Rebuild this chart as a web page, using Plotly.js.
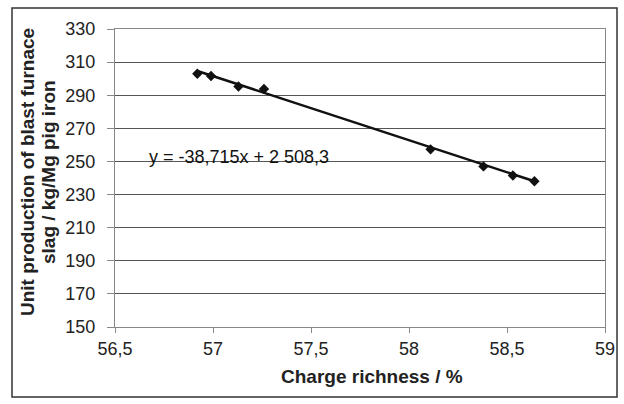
<!DOCTYPE html>
<html>
<head>
<meta charset="utf-8">
<script src="https://cdn.plot.ly/plotly-3.0.1.min.js"></script>
<style>body{margin:0;background:#fff}#c{width:624px;height:404px}</style>
</head>
<body>
<div id="c"></div>
<script>
const richness = [56.92, 56.99, 57.13, 57.26, 58.11, 58.38, 58.53, 58.64];
const slag = [303, 301.6, 295.3, 293.8, 257.3, 247, 241.5, 238];
const slope = -38.715;
const intercept = 2508.3;
const xTicks = [56.5, 57, 57.5, 58, 58.5, 59];
const xTickText = ["56,5", "57", "57,5", "58", "58,5", "59"];
const yTicks = [150, 170, 190, 210, 230, 250, 270, 290, 310, 330];
const equationText = "y = -38,715x + 2 508,3";
const yTitleLines = ["Unit production of blast furnace", "slag / kg/Mg pig iron"];
const xTitle = "Charge richness / %";

const xMin = Math.min(...richness), xMax = Math.max(...richness);
const trendX = [xMin, xMax];
const trendY = trendX.map(x => slope * x + intercept);

const W = 624, H = 404, L = 115, R = 19, T = 29, B = 77;
const pw = W - L - R, ph = H - T - B;
const px = v => (v - L) / pw;
const py = v => 1 - (v - T) / ph;

const data = [
  {x: trendX, y: trendY, mode: 'lines', line: {color: '#111', width: 2.5}, hoverinfo: 'skip'},
  {x: richness, y: slag, mode: 'markers', marker: {symbol: 'diamond', size: 8, color: '#111'}}
];
const layout = {
  width: W, height: H,
  margin: {l: L, r: R, t: T, b: B},
  showlegend: false,
  paper_bgcolor: '#fff', plot_bgcolor: '#fff',
  font: {family: 'Liberation Sans, Arial, sans-serif', color: '#222', size: 18},
  xaxis: {
    range: [56.5, 59], tickvals: xTicks, ticktext: xTickText,
    showgrid: false, zeroline: false, showline: true, linecolor: '#888', linewidth: 1,
    ticks: 'outside', ticklen: 5, tickcolor: '#888', mirror: true,
    tickfont: {size: 18, color: '#222'}
  },
  yaxis: {
    range: [150, 330], tickvals: yTicks,
    showgrid: true, gridcolor: '#555', gridwidth: 1, zeroline: false,
    showline: true, linecolor: '#888', linewidth: 1, mirror: true,
    ticks: 'outside', ticklen: 7, tickcolor: '#888', ticklabelstandoff: 8,
    tickfont: {size: 18, color: '#222'}
  },
  annotations: [
    {xref: 'paper', yref: 'paper', x: px(147), y: py(157), xanchor: 'left', yanchor: 'middle',
     text: equationText, showarrow: false, font: {size: 18, color: '#111'}},
    {xref: 'paper', yref: 'paper', x: px(372), y: py(376), xanchor: 'center', yanchor: 'middle',
     text: '<b>' + xTitle + '</b>', showarrow: false, font: {size: 19, color: '#222'}},
    {xref: 'paper', yref: 'paper', x: px(28), y: py(172), xanchor: 'center', yanchor: 'middle', textangle: -90,
     text: '<b>' + yTitleLines[0] + '</b>', showarrow: false, font: {size: 19, color: '#222'}},
    {xref: 'paper', yref: 'paper', x: px(49), y: py(172), xanchor: 'center', yanchor: 'middle', textangle: -90,
     text: '<b>' + yTitleLines[1] + '</b>', showarrow: false, font: {size: 19, color: '#222'}}
  ],
  shapes: [
    {type: 'rect', xref: 'paper', yref: 'paper', x0: px(12), x1: px(617), y0: py(8), y1: py(397),
     line: {color: '#333', width: 1.5}, layer: 'below'}
  ]
};
Plotly.newPlot('c', data, layout, {displayModeBar: false, staticPlot: true});
</script>
</body>
</html>
